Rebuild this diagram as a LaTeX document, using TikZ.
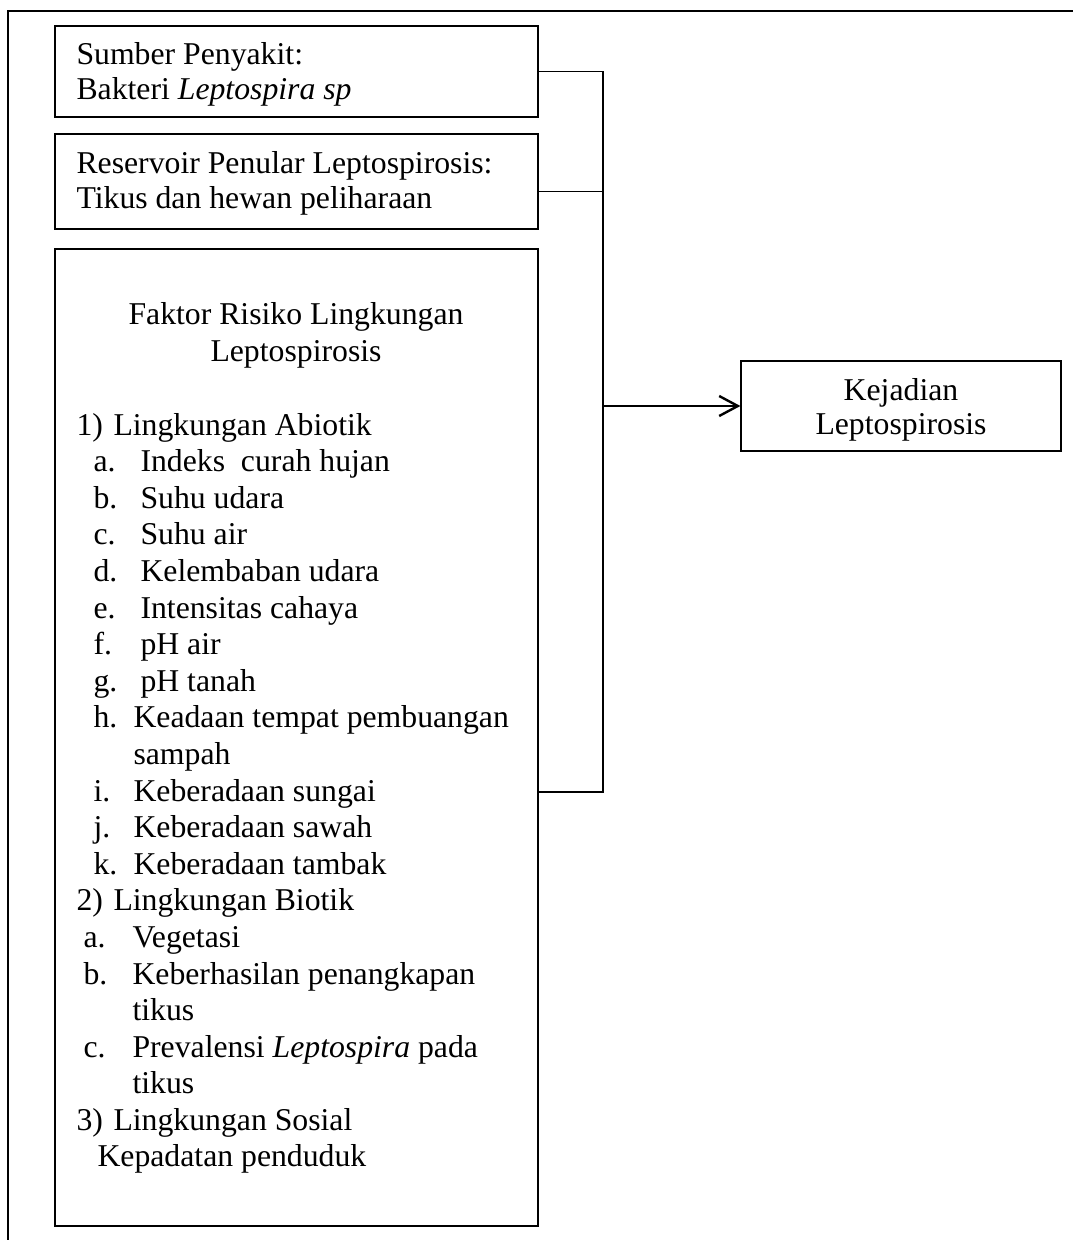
\documentclass[tikz,border=0pt]{standalone}
\usepackage{fontspec}
\setmainfont{Liberation Serif}
\usetikzlibrary{arrows.meta}

\newlength{\upx}
\setlength{\upx}{0.375pt}
\newcommand{\itm}[2]{\makebox[#1][l]{#2}}

\tikzset{
  box/.style={draw, line width=0.45pt, inner sep=0pt},
  txt/.style={anchor=base west, inner sep=0pt, font=\fontsize{11.9}{14}\selectfont},
  ctxt/.style={txt, anchor=base},
  link/.style={line width=0.45pt},
  arrowlink/.style={line width=0.9pt, -{Straight Barb[length=7pt, width=7.5pt, line width=0.9pt]}},
}

\begin{document}
\begin{tikzpicture}[x=0.375pt, y=-0.375pt]
    \useasboundingbox (0,0) rectangle (1073,1240);

    % outer frame (cut at right and bottom)
    \draw[line width=0.6pt] (8,1240) -- (8,11) -- (1073,11);

    % boxes
    \node[box, minimum width=483*\upx, minimum height=91*\upx] (sumber) at (296.5,71.5) {};
    \node[box, minimum width=483*\upx, minimum height=95*\upx] (reservoir) at (296.5,181.5) {};
    \node[box, minimum width=483*\upx, minimum height=977*\upx] (faktor) at (296.5,737.5) {};
    \node[box, minimum width=320*\upx, minimum height=90*\upx] (kejadian) at (901,406) {};

    % box texts
    \node[txt] (s1) at (76,65) {Sumber Penyakit:};
    \node[txt] (s2) at (76,100) {Bakteri \textit{Leptospira sp}};
    \node[txt] (r1) at (76,174) {Reservoir Penular Leptospirosis:};
    \node[txt] (r2) at (76,209) {Tikus dan hewan peliharaan};
    \node[ctxt] (k1) at (901,400) {Kejadian};
    \node[ctxt] (k2) at (901,434) {Leptospirosis};

    \node[ctxt] (f1) at (296,325) {Faktor Risiko Lingkungan};
    \node[ctxt] (f2) at (296,362) {Leptospirosis};

    % abiotik
    \node[txt] (ab) at (76,435) {\itm{37\upx}{1)}Lingkungan Abiotik};
    \node[txt] (ab1) at (93,471.6) {\itm{47\upx}{a.}Indeks\ \ curah hujan};
    \node[txt] (ab2) at (93,508.2) {\itm{47\upx}{b.}Suhu udara};
    \node[txt] (ab3) at (93,544.8) {\itm{47\upx}{c.}Suhu air};
    \node[txt] (ab4) at (93,581.4) {\itm{47\upx}{d.}Kelembaban udara};
    \node[txt] (ab5) at (93,618) {\itm{47\upx}{e.}Intensitas cahaya};
    \node[txt] (ab6) at (93,654.6) {\itm{47\upx}{f.}pH air};
    \node[txt] (ab7) at (93,691.2) {\itm{47\upx}{g.}pH tanah};
    \node[txt] (ab8) at (93,727.8) {\itm{40\upx}{h.}Keadaan tempat pembuangan};
    \node[txt] (ab8b) at (133,764.4) {sampah};
    \node[txt] (ab9) at (93,801) {\itm{40\upx}{i.}Keberadaan sungai};
    \node[txt] (ab10) at (93,837.6) {\itm{40\upx}{j.}Keberadaan sawah};
    \node[txt] (ab11) at (93,874.2) {\itm{40\upx}{k.}Keberadaan tambak};

    % biotik
    \node[txt] (bi) at (76,910.8) {\itm{37\upx}{2)}Lingkungan Biotik};
    \node[txt] (bi1) at (83,947.4) {\itm{49\upx}{a.}Vegetasi};
    \node[txt] (bi2) at (83,984) {\itm{49\upx}{b.}Keberhasilan penangkapan};
    \node[txt] (bi2b) at (132,1020.6) {tikus};
    \node[txt] (bi3) at (83,1057.2) {\itm{49\upx}{c.}Prevalensi \textit{Leptospira} pada};
    \node[txt] (bi3b) at (132,1093.8) {tikus};

    % sosial
    \node[txt] (so) at (76,1130.4) {\itm{37\upx}{3)}Lingkungan Sosial};
    \node[txt] (so1) at (97,1166) {Kepadatan penduduk};

    % connectors
    \coordinate (bustop) at (603,71.5);
    \coordinate (busbot) at (603,792);
    \draw[link] (sumber.east) -- (bustop) -- (busbot) -- (busbot -| faktor.east);
    \draw[link] ([yshift=-3.9pt]reservoir.east) coordinate (rsv) -- (rsv -| bustop);
    \draw[arrowlink] (bustop |- kejadian.west) -- (kejadian.west);
\end{tikzpicture}
\end{document}
